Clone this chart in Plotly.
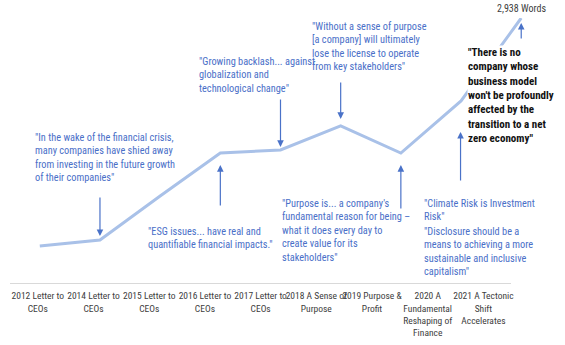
import plotly.graph_objects as go

W, H = 565, 345

categories = ["2012", "2014", "2015", "2016", "2017", "2018", "2019", "2020", "2021"]
tick_labels = [
    "2012 Letter to<br>CEOs",
    "2014 Letter to<br>CEOs",
    "2015 Letter to<br>CEOs",
    "2016 Letter to<br>CEOs",
    "2017 Letter to<br>CEOs",
    "2018 A Sense of<br>Purpose",
    "2019 Purpose &<br>Profit",
    "2020 A<br>Fundamental<br>Reshaping of<br>Finance",
    "2021 A Tectonic<br>Shift<br>Accelerates",
]
word_counts = [410, 477, 965, 1441, 1475, 1741, 1441, 2018, 2938]

FONT = "Roboto Condensed, Liberation Sans Narrow, Roboto, sans-serif"
BLUE_TXT = "#4A6FC8"
BLUE_ARR = "#4A72C8"
LINE_C = "#A9C1E8"

def px(x):
    return x / W

def py(y):
    return 1 - y / H

fig = go.Figure()
fig.add_trace(go.Scatter(
    x=categories, y=[None] * len(categories), xaxis="x2", mode="lines",
    showlegend=False, hoverinfo="skip",
))
fig.add_trace(go.Scatter(
    x=categories, y=word_counts, mode="lines",
    line=dict(color=LINE_C, width=3),
    showlegend=False, hoverinfo="skip",
))

annotations = []

QS = 10.3
quotes = [
    (34, 130, "\"In the wake of the financial crisis,<br>many companies have shied away<br>from investing in the future growth<br>of their companies\"", BLUE_TXT, False, QS),
    (199, 54, "\"Growing backlash... against<br>globalization and<br>technological change\"", BLUE_TXT, False, QS),
    (313, 19, "\"Without a sense of purpose<br>[a company] will ultimately<br>lose the license to operate<br>from key stakeholders\"", BLUE_TXT, False, QS),
    (148, 224, "\"ESG issues... have real and<br>quantifiable financial impacts.\"", BLUE_TXT, False, QS),
    (283, 196, "\"Purpose is... a company's<br>fundamental reason for being –<br>what it does every day to<br>create value for its<br>stakeholders\"", BLUE_TXT, False, QS),
    (425, 196, "\"Climate Risk is Investment<br>Risk\"", BLUE_TXT, False, QS),
    (425, 224, "\"Disclosure should be a<br>means to achieving a more<br>sustainable and inclusive<br>capitalism\"", BLUE_TXT, False, QS),
    (469, 45, "<b>\"There is no<br>company whose<br>business model<br>won't be profoundly<br>affected by the<br>transition to a net<br>zero economy\"</b>", "#111111", True, 11),
]
for x, y, t, c, bg, fs in quotes:
    annotations.append(dict(
        xref="paper", yref="paper", x=px(x), y=py(y), xanchor="left", yanchor="top",
        text=t, showarrow=False, align="left",
        font=dict(family=FONT, size=fs, color=c),
        bgcolor="white" if bg else None, borderpad=0,
    ))

# arrows at line points: (category index, arrow tail offset in px, standoff)
arrows = [
    (1, -44, 4),
    (3, 54, 12),
    (4, -52, 3),
    (5, -45, 7),
    (6, 57, 12),
]
for i, ay, so in arrows:
    annotations.append(dict(
        x=i, y=word_counts[i], xref="x", yref="y",
        ax=0, ay=ay, showarrow=True, arrowhead=2, arrowsize=1.1, arrowwidth=1.2,
        arrowcolor=BLUE_ARR, standoff=so, text="",
    ))

annotations.append(dict(
    xref="paper", yref="paper", x=px(463), y=py(132), ax=0, ay=50,
    showarrow=True, arrowhead=2, arrowsize=1.1, arrowwidth=1.2, arrowcolor=BLUE_ARR, text="",
))
last = len(categories) - 1
annotations.append(dict(
    x=last, y=word_counts[last], xref="x", yref="y",
    ax=0, ay=17, standoff=0, yshift=-5,
    showarrow=True, arrowhead=2, arrowsize=1.1, arrowwidth=1.2, arrowcolor=BLUE_ARR, text="",
))
annotations.append(dict(
    x=last, y=word_counts[last], xref="x", yref="y", yshift=10,
    text=f"{word_counts[last]:,} Words", showarrow=False,
    font=dict(family=FONT, size=10, color="#404040"),
))

fig.update_layout(
    width=W, height=H,
    margin=dict(l=0, r=0, t=0, b=0),
    paper_bgcolor="white", plot_bgcolor="rgba(0,0,0,0)",
    annotations=annotations,
    xaxis=dict(
        type="category", domain=[9.75 / W, 554.25 / W], range=[-0.5, 8.5],
        visible=False, showgrid=False, zeroline=False,
    ),
    xaxis2=dict(
        type="category", domain=[10 / W, 514 / W], range=[-0.5, 8.5], anchor="y",
        tickvals=categories, ticktext=tick_labels, tickangle=0,
        showline=True, linecolor="#D9D9D9", linewidth=1,
        showgrid=False, zeroline=False, ticks="", ticklabelstandoff=4,
        tickfont=dict(family=FONT, size=9.5, color="#404040"),
    ),
    yaxis=dict(
        domain=[1 - 283 / H, 1 - 18 / H], range=[0, 2938],
        visible=False, showgrid=False, zeroline=False,
    ),
)

fig.write_html("out.html")
